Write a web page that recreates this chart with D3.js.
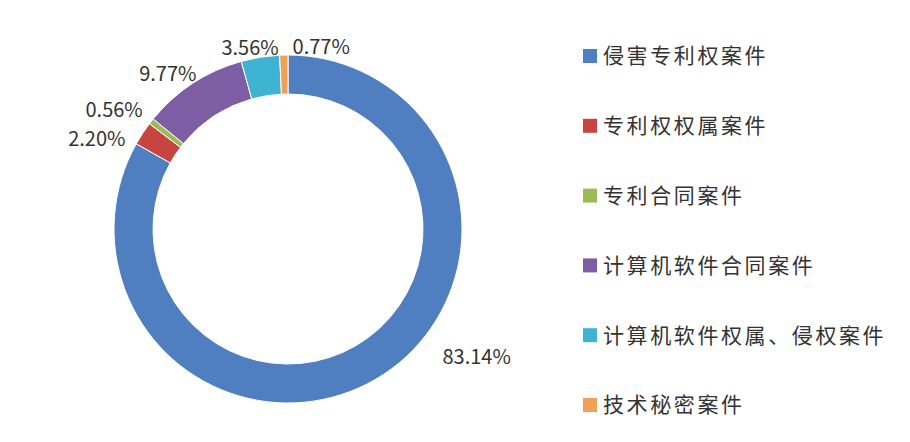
<!DOCTYPE html>
<html><head><meta charset="utf-8">
<script src="https://cdn.jsdelivr.net/npm/d3@7"></script>
<style>body{margin:0;background:#fff}text{font-family:"Noto Sans CJK SC","Noto Sans",sans-serif}</style>
</head><body><div id="main"></div>
<script>
const categories = ["侵害专利权案件", "专利权权属案件", "专利合同案件", "计算机软件合同案件", "计算机软件权属、侵权案件", "技术秘密案件"]
const values = [83.14, 2.20, 0.56, 9.77, 3.56, 0.77]
const colors = ["#4f7fc0", "#c8443f", "#9bbb59", "#7d5ea5", "#3fb4d2", "#f0a058"]

let width = 910, height = 442
const cx = 288, cy = 229, outerR = 174, innerR = 135

const svg = d3.select("#main").append("svg").attr("width", width).attr("height", height)

const pie = d3.pie().sort(null).value(d => d)
const arcs = pie(values)
const arc = d3.arc().innerRadius(innerR).outerRadius(outerR)

const g = svg.append("g").attr("transform", `translate(${cx},${cy})`)
g.selectAll("path").data(arcs).join("path")
    .attr("d", arc)
    .attr("fill", (d, i) => colors[i])
    .attr("stroke", "#fff").attr("stroke-width", 1)

// label nudges (radius, dx, dy) — small slices crowd at the top-left
const nudge = [[225, 75, -66], [200, -24, 20], [215, -5, 14], [205, -8, 17], [200, -6, 16], [198, 38, 16]]
g.selectAll("text.lbl").data(arcs).join("text")
    .attr("class", "lbl")
    .attr("x", (d, i) => Math.sin((d.startAngle + d.endAngle) / 2) * nudge[i][0] + nudge[i][1])
    .attr("y", (d, i) => -Math.cos((d.startAngle + d.endAngle) / 2) * nudge[i][0] + nudge[i][2])
    .attr("text-anchor", "middle").attr("dy", "0.35em")
    .attr("font-size", 20).attr("fill", "#333")
    .text(d => d.data.toFixed(2) + "%")

const legend = svg.append("g")
const ly = d3.scalePoint().domain(categories).range([56, 405])
legend.selectAll("rect").data(categories).join("rect")
    .attr("x", 583).attr("y", d => ly(d) - 7).attr("width", 14).attr("height", 14)
    .attr("fill", (d, i) => colors[i])
legend.selectAll("text").data(categories).join("text")
    .attr("x", 603).attr("y", d => ly(d)).attr("dy", "0.35em")
    .attr("font-size", 21).attr("letter-spacing", 2.6).attr("fill", "#333")
    .text(d => d)
</script></body></html>
